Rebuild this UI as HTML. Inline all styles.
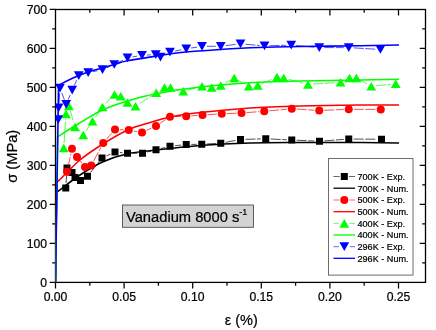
<!DOCTYPE html>
<html><head><meta charset="utf-8"><title>Vanadium 8000 s-1</title>
<style>html,body{margin:0;padding:0;background:#fff}body{width:436px;height:330px;overflow:hidden}svg text{stroke:#000;stroke-width:.22px;stroke-linejoin:round}</style></head>
<body>
<svg width="436" height="330" viewBox="0 0 436 330" style="display:block">
<rect width="436" height="330" fill="#fff"/>
<g font-family="'Liberation Sans', Arial, sans-serif" fill="#000">
<rect x="55.5" y="9.5" width="370.0" height="272.9" fill="none" stroke="#000" stroke-width="1.3"/>
<path d="M55.50 282.40 h-5.80 M55.50 262.90 h-3.30 M425.50 262.90 h-3.30 M55.50 243.41 h-5.80 M425.50 243.41 h-5.80 M55.50 223.91 h-3.30 M425.50 223.91 h-3.30 M55.50 204.42 h-5.80 M425.50 204.42 h-5.80 M55.50 184.92 h-3.30 M425.50 184.92 h-3.30 M55.50 165.43 h-5.80 M425.50 165.43 h-5.80 M55.50 145.93 h-3.30 M425.50 145.93 h-3.30 M55.50 126.44 h-5.80 M425.50 126.44 h-5.80 M55.50 106.94 h-3.30 M425.50 106.94 h-3.30 M55.50 87.45 h-5.80 M425.50 87.45 h-5.80 M55.50 67.95 h-3.30 M425.50 67.95 h-3.30 M55.50 48.46 h-5.80 M425.50 48.46 h-5.80 M55.50 28.96 h-3.30 M425.50 28.96 h-3.30 M55.50 9.47 h-5.80 M55.50 282.40 v6.00 M89.80 282.40 v3.30 M89.80 9.50 v3.30 M124.10 282.40 v6.00 M124.10 9.50 v6.00 M158.40 282.40 v3.30 M158.40 9.50 v3.30 M192.70 282.40 v6.00 M192.70 9.50 v6.00 M227.00 282.40 v3.30 M227.00 9.50 v3.30 M261.30 282.40 v6.00 M261.30 9.50 v6.00 M295.60 282.40 v3.30 M295.60 9.50 v3.30 M329.90 282.40 v6.00 M329.90 9.50 v6.00 M364.20 282.40 v3.30 M364.20 9.50 v3.30 M398.50 282.40 v6.00 M398.50 9.50 v6.00" stroke="#000" stroke-width="1.25" fill="none"/>
<clipPath id="cp"><rect x="55.5" y="9.5" width="370.0" height="272.9"/></clipPath><g clip-path="url(#cp)">
<path d="M66.06 183.01 L66.69 172.99 M90.61 172.34 L98.89 161.91 M106.54 155.90 L110.46 154.10 M119.98 152.50 L122.52 152.75 M132.50 153.25 L137.50 153.25 M147.34 152.00 L151.16 151.00 M160.85 148.54 L165.15 147.46 M174.97 145.71 L181.28 145.04 M191.25 144.42 L196.75 144.33 M206.74 143.99 L215.76 143.51 M225.66 142.32 L235.59 140.43 M245.50 139.35 L260.75 138.90 M270.74 138.99 L286.76 139.76 M296.74 140.22 L314.51 141.03 M324.49 140.87 L343.76 139.38 M353.75 139.04 L376.50 139.21" fill="none" stroke="#000" stroke-width="0.7" stroke-dasharray="10 1.5"/>
<path d="M55.5 282.4 L56.49 192.30 C56.84 192.05 54.68 193.68 58.60 190.80 C62.52 187.92 72.68 179.80 80.00 175.00 C87.32 170.20 94.58 165.54 102.50 162.00 C110.42 158.46 118.58 155.75 127.50 153.75 C136.42 151.75 143.92 151.38 156.00 150.00 C168.08 148.62 184.33 146.67 200.00 145.50 C215.67 144.33 233.33 143.50 250.00 143.00 C266.67 142.50 281.83 142.58 300.00 142.50 C318.17 142.42 342.50 142.42 359.00 142.50 C375.50 142.58 392.33 142.92 399.00 143.00" fill="none" stroke="#000" stroke-width="1.6" stroke-linejoin="round"/>
<rect x="62.25" y="184.50" width="7.00" height="7.00" fill="#000"/>
<rect x="63.50" y="164.50" width="7.00" height="7.00" fill="#000"/>
<rect x="68.50" y="169.00" width="7.00" height="7.00" fill="#000"/>
<rect x="71.50" y="174.00" width="7.00" height="7.00" fill="#000"/>
<rect x="77.00" y="177.00" width="7.00" height="7.00" fill="#000"/>
<rect x="84.00" y="172.75" width="7.00" height="7.00" fill="#000"/>
<rect x="98.50" y="154.50" width="7.00" height="7.00" fill="#000"/>
<rect x="111.50" y="148.50" width="7.00" height="7.00" fill="#000"/>
<rect x="124.00" y="149.75" width="7.00" height="7.00" fill="#000"/>
<rect x="139.00" y="149.75" width="7.00" height="7.00" fill="#000"/>
<rect x="152.50" y="146.25" width="7.00" height="7.00" fill="#000"/>
<rect x="166.50" y="142.75" width="7.00" height="7.00" fill="#000"/>
<rect x="182.75" y="141.00" width="7.00" height="7.00" fill="#000"/>
<rect x="198.25" y="140.75" width="7.00" height="7.00" fill="#000"/>
<rect x="217.25" y="139.75" width="7.00" height="7.00" fill="#000"/>
<rect x="237.00" y="136.00" width="7.00" height="7.00" fill="#000"/>
<rect x="262.25" y="135.25" width="7.00" height="7.00" fill="#000"/>
<rect x="288.25" y="136.50" width="7.00" height="7.00" fill="#000"/>
<rect x="316.00" y="137.75" width="7.00" height="7.00" fill="#000"/>
<rect x="345.25" y="135.50" width="7.00" height="7.00" fill="#000"/>
<rect x="378.00" y="135.75" width="7.00" height="7.00" fill="#000"/>
<path d="M68.06 166.86 L70.94 153.64 M80.12 160.90 L81.88 163.10 M93.60 161.09 L100.90 147.41 M106.53 139.23 L111.72 133.27 M120.00 129.68 L123.75 129.82 M133.66 130.93 L137.09 131.57 M146.54 130.39 L151.46 128.11 M160.17 123.24 L165.83 119.51 M175.00 116.60 L181.25 116.40 M191.24 115.87 L197.51 115.38 M207.49 114.68 L216.76 114.07 M226.75 113.56 L236.50 113.19 M246.49 112.62 L259.26 111.63 M269.23 110.80 L286.77 109.20 M296.74 109.07 L314.26 110.18 M324.25 110.29 L343.75 109.46 M353.75 109.29 L375.75 109.46" fill="none" stroke="#f00" stroke-width="0.7" stroke-dasharray="10 1.5"/>
<path d="M55.5 282.4 L56.70 182.30 C57.12 181.95 55.32 183.92 59.20 180.20 C63.08 176.48 72.66 166.07 80.00 160.00 C87.34 153.93 95.12 148.83 103.25 143.75 C111.38 138.67 120.96 133.04 128.75 129.50 C136.54 125.96 143.12 124.58 150.00 122.50 C156.88 120.42 161.67 118.67 170.00 117.00 C178.33 115.33 186.67 114.00 200.00 112.50 C213.33 111.00 233.33 109.08 250.00 108.00 C266.67 106.92 281.83 106.50 300.00 106.00 C318.17 105.50 342.50 105.17 359.00 105.00 C375.50 104.83 392.33 105.00 399.00 105.00" fill="none" stroke="#f00" stroke-width="1.6" stroke-linejoin="round"/>
<circle cx="67.00" cy="171.75" r="4.00" fill="#f00"/>
<circle cx="72.00" cy="148.75" r="4.00" fill="#f00"/>
<circle cx="77.00" cy="157.00" r="4.00" fill="#f00"/>
<circle cx="85.00" cy="167.00" r="4.00" fill="#f00"/>
<circle cx="91.25" cy="165.50" r="4.00" fill="#f00"/>
<circle cx="103.25" cy="143.00" r="4.00" fill="#f00"/>
<circle cx="115.00" cy="129.50" r="4.00" fill="#f00"/>
<circle cx="128.75" cy="130.00" r="4.00" fill="#f00"/>
<circle cx="142.00" cy="132.50" r="4.00" fill="#f00"/>
<circle cx="156.00" cy="126.00" r="4.00" fill="#f00"/>
<circle cx="170.00" cy="116.75" r="4.00" fill="#f00"/>
<circle cx="186.25" cy="116.25" r="4.00" fill="#f00"/>
<circle cx="202.50" cy="115.00" r="4.00" fill="#f00"/>
<circle cx="221.75" cy="113.75" r="4.00" fill="#f00"/>
<circle cx="241.50" cy="113.00" r="4.00" fill="#f00"/>
<circle cx="264.25" cy="111.25" r="4.00" fill="#f00"/>
<circle cx="291.75" cy="108.75" r="4.00" fill="#f00"/>
<circle cx="319.25" cy="110.50" r="4.00" fill="#f00"/>
<circle cx="348.75" cy="109.25" r="4.00" fill="#f00"/>
<circle cx="380.75" cy="109.50" r="4.00" fill="#f00"/>
<path d="M64.08 143.01 L65.67 118.79 M70.28 110.61 L73.62 122.19 M78.59 130.48 L79.66 131.52 M86.04 130.85 L89.71 125.40 M95.37 117.16 L99.63 111.09 M105.96 103.39 L111.04 98.11 M139.69 103.52 L152.06 95.48 M175.30 88.91 L178.45 89.84 M188.08 89.96 L197.17 87.54 M225.12 83.07 L229.88 80.43 M238.60 80.47 L244.40 83.78 M262.32 83.48 L272.43 79.02 M288.58 79.29 L303.17 83.21 M312.99 84.15 L335.51 82.60 M360.77 80.43 L366.88 83.82 M376.22 85.74 L390.78 84.26" fill="none" stroke="#0f0" stroke-width="0.7" stroke-dasharray="10 1.5"/>
<path d="M55.5 282.4 L57.54 137.00 C57.86 136.77 56.09 137.77 59.50 135.60 C62.91 133.43 70.83 128.27 78.00 124.00 C85.17 119.73 94.25 113.83 102.50 110.00 C110.75 106.17 118.58 103.71 127.50 101.00 C136.42 98.29 143.92 96.08 156.00 93.75 C168.08 91.42 182.88 88.92 200.00 87.00 C217.12 85.08 242.08 83.25 258.75 82.25 C275.42 81.25 283.29 81.38 300.00 81.00 C316.71 80.62 342.50 80.29 359.00 80.00 C375.50 79.71 392.33 79.38 399.00 79.25" fill="none" stroke="#0f0" stroke-width="1.6" stroke-linejoin="round"/>
<path d="M58.85 152.35 L68.65 152.35 L63.75 143.65 Z" fill="#0f0"/>
<path d="M61.10 118.15 L70.90 118.15 L66.00 109.45 Z" fill="#0f0"/>
<path d="M64.00 110.15 L73.80 110.15 L68.90 101.45 Z" fill="#0f0"/>
<path d="M70.10 131.35 L79.90 131.35 L75.00 122.65 Z" fill="#0f0"/>
<path d="M78.35 139.35 L88.15 139.35 L83.25 130.65 Z" fill="#0f0"/>
<path d="M87.60 125.60 L97.40 125.60 L92.50 116.90 Z" fill="#0f0"/>
<path d="M97.60 111.35 L107.40 111.35 L102.50 102.65 Z" fill="#0f0"/>
<path d="M109.60 98.85 L119.40 98.85 L114.50 90.15 Z" fill="#0f0"/>
<path d="M115.85 100.60 L125.65 100.60 L120.75 91.90 Z" fill="#0f0"/>
<path d="M122.60 106.85 L132.40 106.85 L127.50 98.15 Z" fill="#0f0"/>
<path d="M130.60 110.60 L140.40 110.60 L135.50 101.90 Z" fill="#0f0"/>
<path d="M151.35 97.10 L161.15 97.10 L156.25 88.40 Z" fill="#0f0"/>
<path d="M159.60 91.85 L169.40 91.85 L164.50 83.15 Z" fill="#0f0"/>
<path d="M165.60 91.85 L175.40 91.85 L170.50 83.15 Z" fill="#0f0"/>
<path d="M178.35 95.60 L188.15 95.60 L183.25 86.90 Z" fill="#0f0"/>
<path d="M197.10 90.60 L206.90 90.60 L202.00 81.90 Z" fill="#0f0"/>
<path d="M206.85 91.85 L216.65 91.85 L211.75 83.15 Z" fill="#0f0"/>
<path d="M215.85 89.85 L225.65 89.85 L220.75 81.15 Z" fill="#0f0"/>
<path d="M229.35 82.35 L239.15 82.35 L234.25 73.65 Z" fill="#0f0"/>
<path d="M243.85 90.60 L253.65 90.60 L248.75 81.90 Z" fill="#0f0"/>
<path d="M252.85 89.85 L262.65 89.85 L257.75 81.15 Z" fill="#0f0"/>
<path d="M272.10 81.35 L281.90 81.35 L277.00 72.65 Z" fill="#0f0"/>
<path d="M278.85 82.35 L288.65 82.35 L283.75 73.65 Z" fill="#0f0"/>
<path d="M303.10 88.85 L312.90 88.85 L308.00 80.15 Z" fill="#0f0"/>
<path d="M335.60 86.60 L345.40 86.60 L340.50 77.90 Z" fill="#0f0"/>
<path d="M344.60 82.35 L354.40 82.35 L349.50 73.65 Z" fill="#0f0"/>
<path d="M351.50 82.35 L361.30 82.35 L356.40 73.65 Z" fill="#0f0"/>
<path d="M366.35 90.60 L376.15 90.60 L371.25 81.90 Z" fill="#0f0"/>
<path d="M390.85 88.10 L400.65 88.10 L395.75 79.40 Z" fill="#0f0"/>
<path d="M58.40 114.60 L58.45 112.90 M58.95 102.91 L59.65 93.19 M61.80 92.87 L64.40 99.63 M68.16 99.70 L70.24 94.80 M74.26 85.64 L76.69 80.26 M93.10 71.61 L97.60 70.69 M107.07 67.68 L109.68 66.52 M118.71 62.24 L123.04 60.06 M132.43 56.95 L137.07 56.15 M146.99 55.05 L150.76 54.85 M164.92 54.77 L165.58 54.43 M174.90 51.10 L181.35 49.80 M191.19 48.02 L197.06 47.08 M207.00 46.30 L215.75 46.30 M225.71 45.67 L235.54 44.43 M245.48 44.24 L259.52 45.46 M269.50 45.75 L286.25 45.25 M296.23 45.54 L314.27 47.16 M324.25 47.60 L343.75 47.60 M353.74 47.90 L375.41 49.20" fill="none" stroke="#00f" stroke-width="0.7" stroke-dasharray="10 1.5"/>
<path d="M55.5 282.4 L58.56 85.30 C59.75 84.67 62.49 83.08 65.75 81.50 C69.01 79.92 74.39 77.40 78.10 75.80 C81.81 74.20 83.98 73.20 88.00 71.90 C92.02 70.60 97.83 69.25 102.20 68.00 C106.58 66.75 110.03 65.60 114.25 64.40 C118.47 63.20 120.54 62.18 127.50 60.80 C134.46 59.42 146.25 57.57 156.00 56.10 C165.75 54.63 175.33 53.10 186.00 52.00 C196.67 50.90 207.88 50.25 220.00 49.50 C232.12 48.75 245.42 48.00 258.75 47.50 C272.08 47.00 283.29 46.79 300.00 46.50 C316.71 46.21 342.50 46.00 359.00 45.75 C375.50 45.50 392.33 45.12 399.00 45.00" fill="none" stroke="#00f" stroke-width="1.6" stroke-linejoin="round"/>
<path d="M53.35 115.25 L63.15 115.25 L58.25 123.95 Z" fill="#00f"/>
<path d="M53.70 103.55 L63.50 103.55 L58.60 112.25 Z" fill="#00f"/>
<path d="M55.10 83.85 L64.90 83.85 L60.00 92.55 Z" fill="#00f"/>
<path d="M61.30 99.95 L71.10 99.95 L66.20 108.65 Z" fill="#00f"/>
<path d="M67.30 85.85 L77.10 85.85 L72.20 94.55 Z" fill="#00f"/>
<path d="M73.85 71.35 L83.65 71.35 L78.75 80.05 Z" fill="#00f"/>
<path d="M83.30 68.25 L93.10 68.25 L88.20 76.95 Z" fill="#00f"/>
<path d="M97.60 65.35 L107.40 65.35 L102.50 74.05 Z" fill="#00f"/>
<path d="M109.35 60.15 L119.15 60.15 L114.25 68.85 Z" fill="#00f"/>
<path d="M122.60 53.45 L132.40 53.45 L127.50 62.15 Z" fill="#00f"/>
<path d="M137.10 50.95 L146.90 50.95 L142.00 59.65 Z" fill="#00f"/>
<path d="M150.85 50.25 L160.65 50.25 L155.75 58.95 Z" fill="#00f"/>
<path d="M155.60 52.75 L165.40 52.75 L160.50 61.45 Z" fill="#00f"/>
<path d="M165.10 47.75 L174.90 47.75 L170.00 56.45 Z" fill="#00f"/>
<path d="M181.35 44.45 L191.15 44.45 L186.25 53.15 Z" fill="#00f"/>
<path d="M197.10 41.95 L206.90 41.95 L202.00 50.65 Z" fill="#00f"/>
<path d="M215.85 41.95 L225.65 41.95 L220.75 50.65 Z" fill="#00f"/>
<path d="M235.60 39.45 L245.40 39.45 L240.50 48.15 Z" fill="#00f"/>
<path d="M259.60 41.55 L269.40 41.55 L264.50 50.25 Z" fill="#00f"/>
<path d="M286.35 40.75 L296.15 40.75 L291.25 49.45 Z" fill="#00f"/>
<path d="M314.35 43.25 L324.15 43.25 L319.25 51.95 Z" fill="#00f"/>
<path d="M343.85 43.25 L353.65 43.25 L348.75 51.95 Z" fill="#00f"/>
<path d="M375.50 45.15 L385.30 45.15 L380.40 53.85 Z" fill="#00f"/>
</g>
<text x="47" y="286.80" font-size="12.2" text-anchor="end">0</text>
<text x="47" y="247.81" font-size="12.2" text-anchor="end">100</text>
<text x="47" y="208.82" font-size="12.2" text-anchor="end">200</text>
<text x="47" y="169.83" font-size="12.2" text-anchor="end">300</text>
<text x="47" y="130.84" font-size="12.2" text-anchor="end">400</text>
<text x="47" y="91.85" font-size="12.2" text-anchor="end">500</text>
<text x="47" y="52.86" font-size="12.2" text-anchor="end">600</text>
<text x="47" y="13.87" font-size="12.2" text-anchor="end">700</text>
<text x="55.50" y="300.5" font-size="12.2" text-anchor="middle">0.00</text>
<text x="124.10" y="300.5" font-size="12.2" text-anchor="middle">0.05</text>
<text x="192.70" y="300.5" font-size="12.2" text-anchor="middle">0.10</text>
<text x="261.30" y="300.5" font-size="12.2" text-anchor="middle">0.15</text>
<text x="329.90" y="300.5" font-size="12.2" text-anchor="middle">0.20</text>
<text x="398.50" y="300.5" font-size="12.2" text-anchor="middle">0.25</text>
<text x="241.3" y="325" font-size="14.5" text-anchor="middle">ε (%)</text>
<text transform="translate(17,156.3) rotate(-90)" font-size="14.7" text-anchor="middle">σ (MPa)</text>
<rect x="122.5" y="205" width="131" height="22.3" fill="#d3d3d3" stroke="#444" stroke-width="0.85"/>
<text x="126" y="222.4" font-size="14.7">Vanadium 8000 s<tspan font-size="9" dy="-7.2">-1</tspan></text>
<rect x="328.5" y="158.5" width="84.5" height="116.6" fill="#fff" stroke="#666" stroke-width="0.95"/>
<path d="M333.5 176.50 H355" stroke="#000" stroke-width="0.6" fill="none"/>
<rect x="339.70" y="172.00" width="9.20" height="9" fill="#fff"/>
<rect x="340.80" y="173.00" width="7.00" height="7.00" fill="#000"/>
<text x="357.5" y="179.80" font-size="9.1">700K - Exp.</text>
<path d="M333.5 188.20 H355" stroke="#000" stroke-width="1.3" fill="none"/>
<text x="357.5" y="191.50" font-size="9.1">700K - Num.</text>
<path d="M333.5 200.00 H355" stroke="#f00" stroke-width="0.6" fill="none"/>
<rect x="339.30" y="195.50" width="10.00" height="9" fill="#fff"/>
<circle cx="344.30" cy="200.00" r="4.00" fill="#f00"/>
<text x="357.5" y="203.30" font-size="9.1">500K - Exp.</text>
<path d="M333.5 211.70 H355" stroke="#f00" stroke-width="1.3" fill="none"/>
<text x="357.5" y="215.00" font-size="9.1">500K - Num.</text>
<path d="M333.5 223.40 H355" stroke="#0f0" stroke-width="0.6" fill="none"/>
<rect x="338.90" y="218.90" width="10.80" height="9" fill="#fff"/>
<path d="M339.40 227.75 L349.20 227.75 L344.30 219.05 Z" fill="#0f0"/>
<text x="357.5" y="226.70" font-size="9.1">400K - Exp.</text>
<path d="M333.5 235.00 H355" stroke="#0f0" stroke-width="1.3" fill="none"/>
<text x="357.5" y="238.30" font-size="9.1">400K - Num.</text>
<path d="M333.5 246.70 H355" stroke="#00f" stroke-width="0.6" fill="none"/>
<rect x="338.90" y="242.20" width="10.80" height="9" fill="#fff"/>
<path d="M339.40 242.35 L349.20 242.35 L344.30 251.05 Z" fill="#00f"/>
<text x="357.5" y="250.00" font-size="9.1">296K - Exp.</text>
<path d="M333.5 258.30 H355" stroke="#00f" stroke-width="1.3" fill="none"/>
<text x="357.5" y="261.60" font-size="9.1">296K - Num.</text>
</g></svg>
</body></html>
